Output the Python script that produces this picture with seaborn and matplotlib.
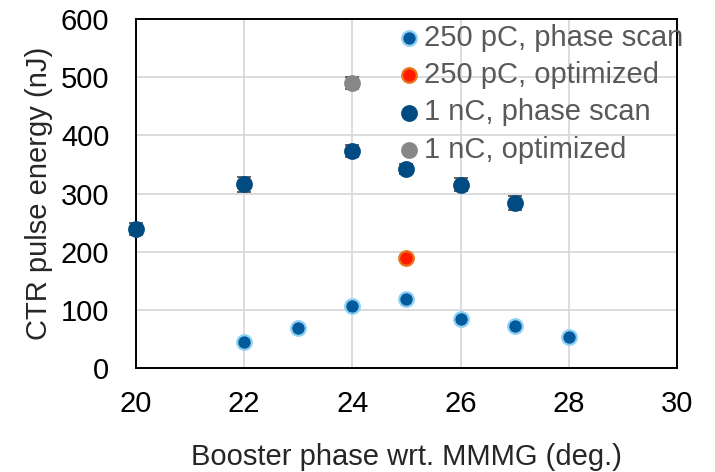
import numpy as np
import pandas as pd
import matplotlib
matplotlib.use('Agg')
import matplotlib.pyplot as plt
import seaborn as sns

# Data
pc250_scan_x = [22, 23, 24, 25, 26, 27, 28]
pc250_scan_y = [45, 69, 107, 119, 84, 73, 53]
pc250_scan_err = [3, 3, 4, 4, 3, 3, 3]

pc250_opt_x = [25]
pc250_opt_y = [189]
pc250_opt_err = [4]

nc1_scan_x = [20, 22, 24, 25, 26, 27]
nc1_scan_y = [239, 316, 373, 342, 315, 284]
nc1_scan_err = [10, 13, 11, 8, 11, 12]

nc1_opt_x = [24]
nc1_opt_y = [490]
nc1_opt_err = [11]

labels = ['250 pC, phase scan', '250 pC, optimized', '1 nC, phase scan', '1 nC, optimized']

sns.set_style('white')
plt.rcParams['font.family'] = ['Liberation Sans', 'DejaVu Sans']

fig, ax = plt.subplots(figsize=(7.15, 4.72), dpi=100)
fig.subplots_adjust(left=0.190, right=0.947, bottom=0.220, top=0.960)

series = [
    (pc250_scan_x, pc250_scan_y, pc250_scan_err, '#005A9C', '#8ED0F5', labels[0]),
    (pc250_opt_x, pc250_opt_y, pc250_opt_err, '#FF1A00', '#E8761E', labels[1]),
    (nc1_scan_x, nc1_scan_y, nc1_scan_err, '#004B82', '#004B82', labels[2]),
    (nc1_opt_x, nc1_opt_y, nc1_opt_err, '#878787', '#878787', labels[3]),
]

for x, y, err, face, edge, lab in series:
    ax.errorbar(x, y, yerr=err, fmt='none', ecolor='#555555', elinewidth=1.3,
                capsize=5, capthick=1.3, zorder=2, clip_on=False)
    df = pd.DataFrame({'x': x, 'y': y})
    sns.scatterplot(data=df, x='x', y='y', ax=ax, color=face, edgecolor=edge,
                    linewidth=1.6, s=110, zorder=3, label=lab, clip_on=False)

ax.set_xlim(20, 30)
ax.set_ylim(0, 600)
ax.set_xticks(np.arange(20, 31, 2))
ax.set_yticks(np.arange(0, 601, 100))
ax.grid(True, color='#D9D9D9', linewidth=1.3)
ax.set_axisbelow(True)
for sp in ax.spines.values():
    sp.set_color('black')
    sp.set_linewidth(1.4)
    sp.set_visible(True)

ax.tick_params(axis='both', direction='in', length=6, width=1.3, colors='black',
               labelsize=21)
ax.tick_params(axis='x', pad=16)
ax.tick_params(axis='y', pad=19)
ax.tick_params(top=False, right=False)

ax.set_xlabel('Booster phase wrt. MMMG (deg.)', fontsize=21, labelpad=18)
ax.set_ylabel('CTR pulse energy (nJ)', fontsize=21, labelpad=6)

ax.get_legend().remove()
handles, lbls = ax.get_legend_handles_labels()
leg = fig.legend(handles, lbls, loc='upper left', bbox_to_anchor=(0.560, 0.950),
                 frameon=False, fontsize=21, handlelength=0.6, handletextpad=0.2,
                 labelspacing=0.32, borderpad=0, borderaxespad=0, markerscale=1.0)
for t in leg.get_texts():
    t.set_color('#595959')

fig.savefig('out.png', dpi=100)
